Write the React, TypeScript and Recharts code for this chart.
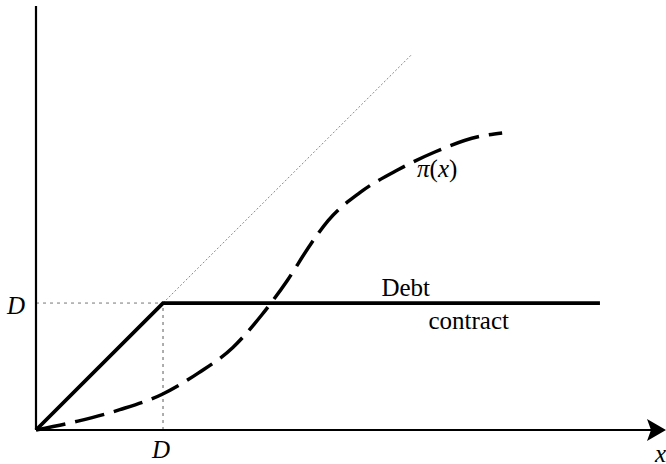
import React from "react";
import { ComposedChart, Line, XAxis, YAxis, ReferenceLine, ReferenceDot } from "recharts";

// Units: D = 1
const D = 1;
const X_MAX = 4.96;
const Y_MAX = 3.34;

const profitCurve = [
  { x: 0, y: 0 },
  { x: 0.33, y: 0.07 },
  { x: 0.66, y: 0.16 },
  { x: 0.99, y: 0.28 },
  { x: 1.28, y: 0.45 },
  { x: 1.55, y: 0.65 },
  { x: 1.78, y: 0.91 },
  { x: 1.98, y: 1.18 },
  { x: 2.16, y: 1.46 },
  { x: 2.3, y: 1.65 },
  { x: 2.55, y: 1.87 },
  { x: 2.85, y: 2.05 },
  { x: 3.14, y: 2.19 },
  { x: 3.48, y: 2.31 },
  { x: 3.67, y: 2.34 },
];

const debtContract = [
  { x: 0, y: 0 },
  { x: D, y: D },
  { x: 4.44, y: D },
];

const diagonal = [
  { x: 0, y: 0 },
  { x: 2.96, y: 2.96 },
];

const FONT = "'Liberation Serif', 'Times New Roman', Times, serif";

const TextShape = (dx: number, dy: number, content: React.ReactNode, anchor = "start") =>
  (props: any) => (
    <text
      x={props.cx + dx}
      y={props.cy + dy}
      style={{ fontFamily: FONT, fontSize: 25 }}
      fill="#000"
      textAnchor={anchor}
    >
      {content}
    </text>
  );

const ArrowShape = (props: any) => {
  const { cx, cy } = props;
  return (
    <g>
      <path
        d={`M ${cx - 19} ${cy - 11} L ${cx} ${cy} L ${cx - 19} ${cy + 11} L ${cx - 15} ${cy} Z`}
        fill="#000"
      />
      <text
        x={cx - 11}
        y={cy + 32}
        style={{ fontFamily: FONT, fontSize: 25, fontStyle: "italic" }}
        fill="#000"
      >
        x
      </text>
    </g>
  );
};

export default function App() {
  return (
    <div style={{ position: "absolute", left: 0, top: 0, background: "#fff" }}>
      <ComposedChart
        width={666}
        height={464}
        margin={{ top: 6, right: 0, bottom: 34, left: 36 }}
      >
        <XAxis type="number" dataKey="x" domain={[0, X_MAX]} hide height={0} />
        <YAxis type="number" dataKey="y" domain={[0, Y_MAX]} hide width={0} />

        {/* guides */}
        <ReferenceLine
          segment={[{ x: 0, y: D }, { x: D, y: D }]}
          stroke="#777"
          strokeWidth={1}
          strokeDasharray="3 4"
        />
        <ReferenceLine
          segment={[{ x: D, y: 0 }, { x: D, y: D }]}
          stroke="#777"
          strokeWidth={1.2}
          strokeDasharray="3 4"
        />

        <Line
          data={diagonal}
          dataKey="y"
          type="linear"
          stroke="#888"
          strokeWidth={1}
          strokeDasharray="2 2"
          dot={false}
          isAnimationActive={false}
        />
        <Line
          data={debtContract}
          dataKey="y"
          type="linear"
          stroke="#000"
          strokeWidth={3.8}
          dot={false}
          isAnimationActive={false}
        />
        <Line
          data={profitCurve}
          dataKey="y"
          type="monotone"
          stroke="#000"
          strokeWidth={3.5}
          strokeDasharray="30 10"
          dot={false}
          isAnimationActive={false}
        />

        {/* axes */}
        <ReferenceLine segment={[{ x: 0, y: 0 }, { x: 0, y: Y_MAX }]} stroke="#000" strokeWidth={2.2} />
        <ReferenceLine segment={[{ x: 0, y: 0 }, { x: X_MAX - 0.1, y: 0 }]} stroke="#000" strokeWidth={2.2} />
        <ReferenceDot x={X_MAX} y={0} r={0} shape={ArrowShape} />

        {/* labels */}
        <ReferenceDot x={0} y={D} r={0} shape={TextShape(-29, 11, <tspan fontStyle="italic">D</tspan>)} />
        <ReferenceDot x={D} y={0} r={0} shape={TextShape(-2, 28, <tspan fontStyle="italic">D</tspan>, "middle")} />
        <ReferenceDot
          x={3.0}
          y={1.99}
          r={0}
          shape={TextShape(
            0,
            0,
            <>
              <tspan fontStyle="italic">π</tspan>
              <tspan>(</tspan>
              <tspan fontStyle="italic">x</tspan>
              <tspan>)</tspan>
            </>
          )}
        />
        <ReferenceDot x={2.72} y={D} r={0} shape={TextShape(0, -7, "Debt")} />
        <ReferenceDot x={3.09} y={D} r={0} shape={TextShape(0, 26, "contract")} />
      </ComposedChart>
    </div>
  );
}
